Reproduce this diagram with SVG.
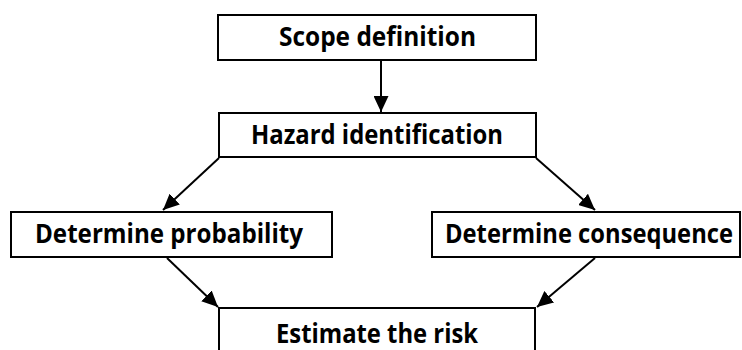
<svg xmlns="http://www.w3.org/2000/svg" width="742" height="350" viewBox="0 0 742 350">
  <style>
    .box { fill: #ffffff; stroke: #000000; stroke-width: 2; }
    .label { font-family: "Open Sans", Lato, "Liberation Sans", sans-serif; font-weight: bold; font-size: 26px; fill: #000000; text-anchor: middle; }
    .edge { stroke: #000000; stroke-width: 2; fill: none; marker-end: url(#arrow); }
  </style>
  <defs>
    <marker id="arrow" markerUnits="userSpaceOnUse" markerWidth="17" markerHeight="15" refX="16" refY="7.5" orient="auto">
      <path d="M0,0 L16,7.5 L0,15 Z" fill="#000000"/>
    </marker>
  </defs>
  <rect width="742" height="350" fill="#ffffff"/>

  <g id="connectors">
    <line class="edge" x1="381" y1="61" x2="381" y2="112"/>
    <line class="edge" x1="219" y1="158" x2="163" y2="210"/>
    <line class="edge" x1="536" y1="158" x2="595" y2="210"/>
    <line class="edge" x1="167" y1="258" x2="218" y2="307"/>
    <line class="edge" x1="595" y1="258" x2="537" y2="307"/>
  </g>

  <g id="scope">
    <rect class="box" x="218" y="15" width="318" height="45"/>
    <text class="label" x="377.5" y="46" textLength="197" lengthAdjust="spacingAndGlyphs">Scope definition</text>
  </g>

  <g id="hazard">
    <rect class="box" x="219" y="113" width="317" height="44"/>
    <text class="label" x="377" y="144" textLength="252" lengthAdjust="spacingAndGlyphs">Hazard identification</text>
  </g>

  <g id="probability">
    <rect class="box" x="11" y="212" width="321" height="45"/>
    <text class="label" x="169" y="243" textLength="268" lengthAdjust="spacingAndGlyphs">Determine probability</text>
  </g>

  <g id="consequence">
    <rect class="box" x="432" y="212" width="308" height="45"/>
    <!-- narrower glyphs, stretched back to full height, so the label fits inside the box -->
    <text class="label" transform="translate(589,243) scale(1,1.13)" style="font-size:23px" x="0" y="0" textLength="288" lengthAdjust="spacingAndGlyphs">Determine consequence</text>
  </g>

  <g id="estimate">
    <rect class="box" x="219" y="308" width="316" height="60"/>
    <text class="label" x="377" y="343" textLength="202" lengthAdjust="spacingAndGlyphs">Estimate the risk</text>
  </g>
</svg>
